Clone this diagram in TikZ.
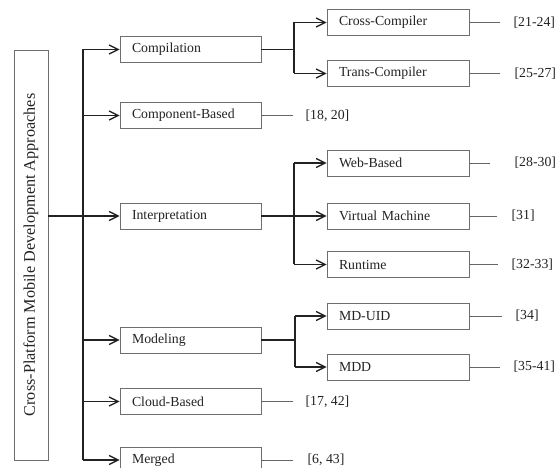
\documentclass[tikz,border=0pt]{standalone}
\usepackage{fontspec}
\setmainfont{Liberation Serif}
\usetikzlibrary{arrows.meta}
\definecolor{inkc}{HTML}{222222}
\definecolor{framec}{HTML}{6E6E6E}
\definecolor{refc}{HTML}{666666}
\tikzset{
  x=1pt, y=-1pt,
  lbl/.style={font=\fontsize{13.8}{16}\selectfont, text=inkc},
  catbox/.style={lbl, draw=framec, line width=0.9pt, rectangle, minimum height=26pt,
    inner xsep=12pt, inner ysep=0pt, text width=117pt, align=left},
  subbox/.style={catbox, text width=118pt},
  conn/.style={draw=inkc, line width=1.3pt},
  arr/.style={conn, -{Straight Barb[length=9pt, width=9pt, line width=1.3pt]}},
  refline/.style={draw=refc, line width=0.8pt},
  reftxt/.style={lbl, anchor=west, inner sep=0pt}
}
\begin{document}
\begin{tikzpicture}
\useasboundingbox (0,0) rectangle (558,468);
\clip (0,0) rectangle (558,468);

% root box with vertical title
\node[draw=framec, line width=0.9pt, minimum width=34pt, minimum height=410pt, inner sep=0pt] (root) at (31,255) {};
\node[rotate=90, font=\fontsize{16.2}{18}\selectfont, text=inkc] (roottxt) at (root.center) {Cross-Platform Mobile Development Approaches};

% first level
\node[catbox] (comp)   at (190.5,49.5)  {Compilation};
\node[catbox] (cbased) at (190.5,115.5) {Component-Based};
\node[catbox] (interp) at (190.5,216)   {Interpretation};
\node[catbox] (model)  at (190.5,340)   {Modeling};
\node[catbox] (cloud)  at (190.5,401.5) {Cloud-Based};
\node[catbox] (merged) at (190.5,460)   {Merged};

% second level
\node[subbox] (cc)  at (398,22.5)  {Cross-Compiler};
\node[subbox] (tc)  at (398,73.5)  {Trans-Compiler};
\node[subbox] (web) at (398,163)   {Web-Based};
\node[subbox] (vm)  at (398,216)   {Virtual Machine};
\node[subbox] (rt)  at (398,264.5) {Runtime};
\node[subbox] (mdu) at (398,316)   {MD-UID};
\node[subbox] (mdd) at (398,367)   {MDD};

% trunk and fork positions
\coordinate (trunk) at (83,0);
\coordinate (forkA) at (294,0);
\coordinate (forkB) at (295,0);

% trunk
\draw[conn] (trunk |- comp) -- (trunk |- merged);
\draw[conn] (root.east |- interp) -- (trunk |- interp);
\foreach \n in {comp,cbased,interp,model,cloud,merged}
  \draw[arr] (trunk |- \n) -- (\n.west);

% compilation branch
\draw[conn] (comp.east) -- (forkA |- comp);
\draw[conn] (forkA |- cc) -- (forkA |- tc);
\draw[arr] (forkA |- cc) -- (cc.west);
\draw[arr] (forkA |- tc) -- (tc.west);

% interpretation branch
\draw[conn] (forkA |- web) -- (forkA |- rt);
\draw[arr] (interp.east) -- (vm.west);
\draw[arr] (forkA |- web) -- (web.west);
\draw[arr] (forkA |- rt) -- (rt.west);

% modeling branch
\draw[conn] (model.east) -- (forkB |- model);
\draw[conn] (forkB |- mdu) -- (forkB |- mdd);
\draw[arr] (forkB |- mdu) -- (mdu.west);
\draw[arr] (forkB |- mdd) -- (mdd.west);

% references
\draw[refline] (cc.east) -- ++(31,0) coordinate (e1);
\node[reftxt] (r1) at ([xshift=13pt]e1) {[21-24]};
\draw[refline] (tc.east) -- ++(31,0) coordinate (e2);
\node[reftxt] (r2) at ([xshift=14pt]e2) {[25-27]};
\draw[refline] (cbased.east) -- ++(32,0) coordinate (e3);
\node[reftxt] (r3) at ([xshift=12pt]e3) {[18, 20]};
\draw[refline] (web.east) -- ++(21,0) coordinate (e4);
\node[reftxt] (r4) at ([xshift=24pt]e4) {[28-30]};
\draw[refline] (vm.east) -- ++(28,0) coordinate (e5);
\node[reftxt] (r5) at ([xshift=14pt]e5) {[31]};
\draw[refline] (rt.east) -- ++(29,0) coordinate (e6);
\node[reftxt] (r6) at ([xshift=13pt]e6) {[32-33]};
\draw[refline] (mdu.east) -- ++(33,0) coordinate (e7);
\node[reftxt] (r7) at ([xshift=13pt]e7) {[34]};
\draw[refline] (mdd.east) -- ++(31,0) coordinate (e8);
\node[reftxt] (r8) at ([xshift=13pt]e8) {[35-41]};
\draw[refline] (cloud.east) -- ++(32,0) coordinate (e9);
\node[reftxt] (r9) at ([xshift=12pt]e9) {[17, 42]};
\draw[refline] (merged.east) -- ++(32,0) coordinate (e10);
\node[reftxt] (r10) at ([xshift=14pt]e10) {[6, 43]};
\end{tikzpicture}
\end{document}
